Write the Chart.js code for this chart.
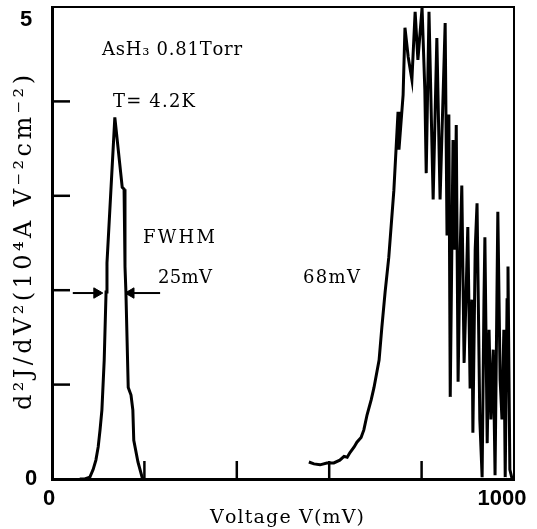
<!DOCTYPE html>
<html><head><meta charset="utf-8">
<script src="https://cdn.jsdelivr.net/npm/chart.js@4.4.1/dist/chart.umd.min.js"></script>
<style>html,body{margin:0;padding:0;background:#fff;overflow:hidden}</style>
</head><body>
<canvas id="c" width="537" height="529"></canvas>
<script>
// ---- data ----
const peak1V = [60, 71, 82, 89, 95, 100, 104, 108, 113, 117, 119, 136, 152, 156, 158, 160, 165, 171, 175, 177, 186, 195, 197];
const peak1D = [0, 0, 0.02, 0.10, 0.20, 0.34, 0.52, 0.73, 1.26, 1.98, 2.29, 3.83, 3.09, 3.07, 2.25, 1.98, 0.97, 0.89, 0.73, 0.41, 0.18, 0.02, 0];

const peak2V = [556, 567, 580, 595, 610, 623, 632, 639, 645, 654, 660, 669, 675, 682, 691, 697, 708, 714, 721, 729,
  740, 749, 751, 760, 764, 771, 779, 786, 792, 801, 807, 810, 816, 825, 833, 840, 851, 855, 859, 862,
  868, 872, 875, 879, 883, 887, 892, 896, 900, 905, 909, 911, 916, 920, 926, 931, 935, 937, 942, 946,
  950, 955, 959, 963, 965, 970, 974, 978, 981, 985, 987, 991, 996];
const peak2D = [0.18, 0.16, 0.15, 0.17, 0.17, 0.20, 0.24, 0.23, 0.28, 0.34, 0.39, 0.44, 0.52, 0.68, 0.84, 0.97, 1.26, 1.61, 1.98, 2.35,
  3.06, 3.89, 3.49, 4.07, 4.78, 4.47, 4.23, 4.95, 4.44, 4.99, 4.12, 3.24, 4.95, 2.96, 4.67, 2.96, 4.83, 2.58, 3.86, 0.87,
  3.59, 2.43, 3.75, 1.03, 2.32, 3.11, 1.23, 1.90, 2.67, 0.96, 1.90, 0.49, 2.43, 2.92, 0.63, 0.02, 1.90, 2.56, 0.38, 1.58,
  0.63, 1.37, 0.04, 1.90, 2.83, 1.05, 0.63, 1.58, 0.02, 1.90, 2.25, 0.10, 0];

const fwhmLevel = 1.97;
const arrowLeftV = [45, 97];
const arrowRightV = [234, 171];

const xTickValues = [200, 400, 600, 800];
const yTickValues = [1, 2, 3, 4];
const xLabelValues = [0, 1000];
const xTickLabels = ['0', '1000'];
const yLabelValues = [0, 5];
const yTickLabels = ['0', '5'];

const xTitle = 'Voltage V(mV)';
const yTitle = 'd²J/dV²(10⁴A V⁻²cm⁻²)';
const notes = ['AsH₃ 0.81Torr', 'T= 4.2K', 'FWHM', '25mV', '68mV'];

const pts = (xs, ys) => xs.map((v, i) => ({x: v, y: ys[i]}));

const SERIF = '"DejaVu Serif", "Liberation Serif", serif';
const SANS = '"Liberation Sans", Arial, sans-serif';

function drawSpaced(ctx, text, x, y, width, font) {
  ctx.font = font;
  const chars = Array.from(text);
  const w = chars.map(c => ctx.measureText(c).width);
  const total = w.reduce((a, b) => a + b, 0);
  const gap = chars.length > 1 ? (width - total) / (chars.length - 1) : 0;
  let cx = x;
  chars.forEach((c, i) => { ctx.fillText(c, cx, y); cx += w[i] + gap; });
}

const decor = {
  id: 'decor',
  afterDraw(chart) {
    const ctx = chart.ctx, a = chart.chartArea;
    const xs = chart.scales.x, ys = chart.scales.y;
    ctx.save();
    ctx.strokeStyle = '#000';
    ctx.fillStyle = '#000';
    // frame top/right
    ctx.lineWidth = 2;
    ctx.beginPath();
    ctx.moveTo(a.left, a.top); ctx.lineTo(a.right, a.top); ctx.lineTo(a.right, a.bottom);
    ctx.stroke();
    // inward ticks
    ctx.lineWidth = 2.5;
    xTickValues.forEach(v => {
      const px = xs.getPixelForValue(v);
      ctx.beginPath(); ctx.moveTo(px, a.bottom); ctx.lineTo(px, a.bottom - 18); ctx.stroke();
    });
    yTickValues.forEach(v => {
      const py = ys.getPixelForValue(v);
      ctx.beginPath(); ctx.moveTo(a.left, py); ctx.lineTo(a.left + 18, py); ctx.stroke();
    });
    // tick labels
    ctx.font = 'bold 22px ' + SANS;
    ctx.textAlign = 'center';
    ctx.textBaseline = 'middle';
    ctx.fillText(yTickLabels[0], a.left - 21, ys.getPixelForValue(yLabelValues[0]));
    ctx.fillText(yTickLabels[1], a.left - 26, ys.getPixelForValue(yLabelValues[1]) + 13);
    ctx.fillText(xTickLabels[0], xs.getPixelForValue(xLabelValues[0]) - 3, a.bottom + 20);
    ctx.fillText(xTickLabels[1], xs.getPixelForValue(xLabelValues[1]) - 12, a.bottom + 20);
    // texts
    ctx.textAlign = 'left';
    ctx.textBaseline = 'alphabetic';
    drawSpaced(ctx, notes[0], 102, 55, 140, '18px ' + SERIF);
    drawSpaced(ctx, notes[1], 113, 107, 82, '18px ' + SERIF);
    drawSpaced(ctx, notes[2], 143, 243, 72, '18px ' + SERIF);
    drawSpaced(ctx, notes[3], 158, 283, 54, '18px ' + SERIF);
    drawSpaced(ctx, notes[4], 303, 283, 57, '18px ' + SERIF);
    drawSpaced(ctx, xTitle, 210, 523, 154, '19px ' + SERIF);
    ctx.translate(31, 410);
    ctx.rotate(-Math.PI / 2);
    drawSpaced(ctx, yTitle, 0, 0, 335, '24px ' + SERIF);
    ctx.restore();
  }
};

new Chart(document.getElementById('c'), {
  type: 'line',
  data: {
    datasets: [
      {data: pts(peak1V, peak1D), borderColor: '#000', borderWidth: 3, pointRadius: 0, tension: 0},
      {data: pts(peak2V, peak2D), borderColor: '#000', borderWidth: 3, pointRadius: 0, tension: 0},
      {data: pts(arrowLeftV, [fwhmLevel, fwhmLevel]), borderColor: '#000', backgroundColor: '#000', borderWidth: 2,
       pointStyle: 'triangle', pointRadius: [0, 6], pointRotation: 90, pointBorderWidth: 1},
      {data: pts(arrowRightV, [fwhmLevel, fwhmLevel]), borderColor: '#000', backgroundColor: '#000', borderWidth: 2,
       pointStyle: 'triangle', pointRadius: [0, 6], pointRotation: -90, pointBorderWidth: 1}
    ]
  },
  options: {
    responsive: false,
    animation: false,
    layout: {padding: {left: 52, right: 23, top: 7, bottom: 50}},
    plugins: {legend: {display: false}, tooltip: {enabled: false}},
    scales: {
      x: {type: 'linear', min: 0, max: 1000,
          ticks: {display: false}, grid: {display: false, drawTicks: false},
          border: {display: true, color: '#000', width: 3}},
      y: {type: 'linear', min: 0, max: 5,
          ticks: {display: false}, grid: {display: false, drawTicks: false},
          border: {display: true, color: '#000', width: 3}}
    }
  },
  plugins: [decor]
});
</script>
</body></html>
